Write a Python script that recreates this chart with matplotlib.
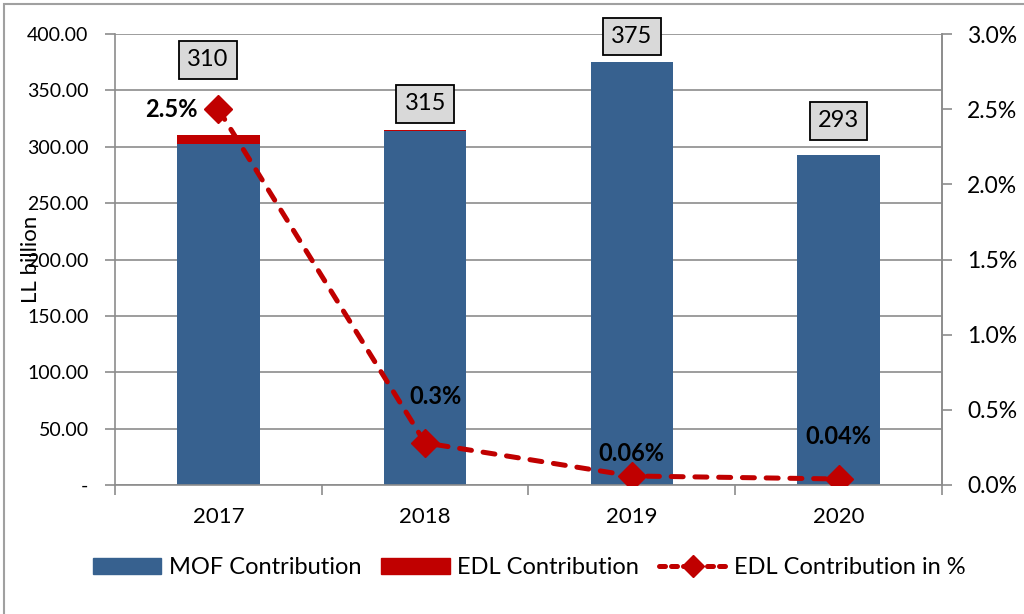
import matplotlib.pyplot as plt
from matplotlib.lines import Line2D
from matplotlib.patches import Patch, Rectangle
from matplotlib.ticker import FuncFormatter

plt.rcParams['font.family'] = ['Lato', 'DejaVu Sans']

# data
years = ['2017', '2018', '2019', '2020']
totals = [310, 315, 375, 293]
edl_pct = [2.5, 0.28, 0.06, 0.04]
edl_labels = ['2.5%', '0.3%', '0.06%', '0.04%']
edl = [t * p / 100 for t, p in zip(totals, edl_pct)]
mof = [t - e for t, e in zip(totals, edl)]

blue = '#37618f'
red = '#c00000'
grid = '#8c8c8c'

fig = plt.figure(figsize=(10.24, 6.14), dpi=100)
# outer chart frame
fig.patches.append(Rectangle((4 / 1024, -0.1), 1.2, (610 / 614) + 0.1, transform=fig.transFigure,
                             fill=False, edgecolor='#a0a0a0', lw=1.5))

ax = fig.add_axes([0.1123, 0.2101, 0.8076, 0.7345])
x = range(len(years))
ax.bar(x, mof, width=0.4, color=blue, zorder=2)
ax.bar(x, edl, width=0.4, bottom=mof, color=red, zorder=2)

ax.set_xlim(-0.5, 3.5)
ax.set_ylim(0, 400)
ax.set_yticks(range(0, 401, 50))
ax.yaxis.set_major_formatter(FuncFormatter(lambda v, p: '-' if v == 0 else f'{v:.2f}'))
ax.grid(axis='y', color=grid, lw=1.2, zorder=0)
ax.set_xticks(list(x))
ax.set_xticklabels(years)
ax.set_xticks([-0.5, 0.5, 1.5, 2.5, 3.5], minor=True)
ax.tick_params(axis='x', which='major', length=0, labelsize=16, pad=16)
ax.tick_params(axis='x', which='minor', length=7, color=grid, width=1.2)
ax.tick_params(axis='y', length=7, color=grid, width=1.2, labelsize=14, pad=12)
for s in ax.spines.values():
    s.set_color(grid)
    s.set_linewidth(1.2)
ax.spines['top'].set_visible(False)
ax.yaxis.set_label_coords(-0.09, 0.52)
ax.set_ylabel('LL billion', fontsize=16)

# total labels
box_y = [377, 338, 398, 323]
box_dx = [-0.05, 0, 0, 0]
for i, t in enumerate(totals):
    ax.text(i + box_dx[i], box_y[i], str(t), ha='center', va='center', fontsize=17, zorder=5,
            bbox=dict(boxstyle='square,pad=0.35', fc='#d9d9d9', ec='black', lw=1.3))

ax2 = ax.twinx()
ax2.plot(x, edl_pct, color=red, lw=3.6, ls=(0, (2.4, 2.35)), dash_capstyle='round',
         marker='D', ms=14, zorder=4)
ax2.set_ylim(0, 3.0)
ax2.set_yticks([0, 0.5, 1.0, 1.5, 2.0, 2.5, 3.0])
ax2.yaxis.set_major_formatter(FuncFormatter(lambda v, p: f'{v:.1f}%'))
ax2.tick_params(axis='y', length=7, color=grid, width=1.2, labelsize=16.5, pad=11)
for s in ax2.spines.values():
    s.set_visible(False)
ax2.spines['right'].set_visible(True)
ax2.spines['right'].set_color(grid)
ax2.spines['right'].set_linewidth(1.2)

pct_pos = [(-0.1, 2.5, 'right'), (0.05, 0.59, 'center'), (0, 0.21, 'center'), (0, 0.32, 'center')]
for (dx, yv, ha), lab, i in zip(pct_pos, edl_labels, x):
    ax2.text(i + dx, yv, lab, ha=ha, va='center', fontsize=17, fontweight='bold', zorder=6)

handles = [Patch(color=blue), Patch(color=red),
           Line2D([], [], color=red, lw=3.6, ls=(0, (1.2, 1.2)), dash_capstyle='round',
                  marker='D', ms=11)]
fig.legend(handles, ['MOF Contribution', 'EDL Contribution', 'EDL Contribution in %'],
           loc='center', bbox_to_anchor=(0.517, 0.075), ncol=3, frameon=False, fontsize=17,
           handlelength=2.9, handleheight=0.65, columnspacing=0.85, handletextpad=0.3)

fig.savefig('out.png', dpi=100)
